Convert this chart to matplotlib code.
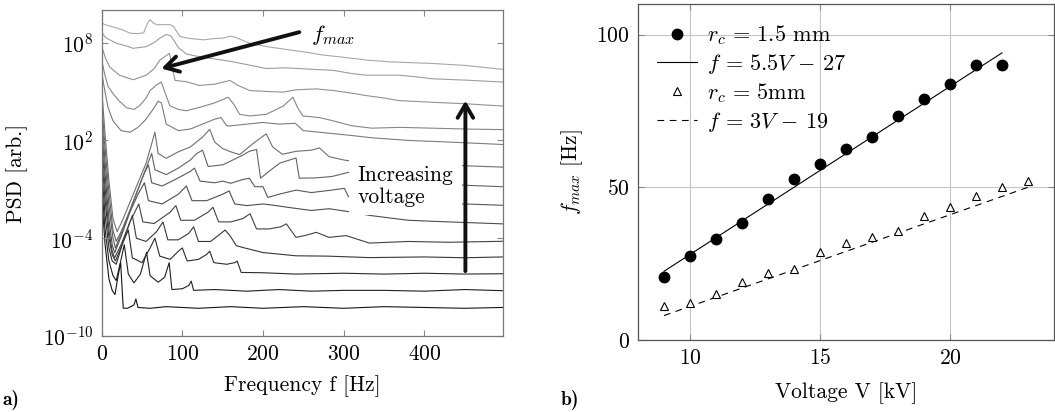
import numpy as np
import matplotlib
matplotlib.use('Agg')
import matplotlib.pyplot as plt

plt.rcParams['font.family'] = 'cmr10'
plt.rcParams['mathtext.fontset'] = 'cm'
plt.rcParams['axes.formatter.use_mathtext'] = True
plt.rcParams['font.size'] = 15.5

# panel a) : spectra, (frequency [Hz], log10 PSD)
psd_09kv = [(0.5, -1.8), (4, -4.3), (9, -6.5), (13, -7.2), (16.5, -7.46), (20, -6.4), (23.5, -5.5), (26.7, -8.29),
            (32, -8.3), (40, -8.1), (42.4, -7.73), (45, -8.25), (60, -8.3), (80, -8.2), (120, -8.3), (160, -8.2),
            (200, -8.3), (250, -8.2), (300, -8.3), (350, -8.2), (400, -8.25), (450, -8.3), (497, -8.25)]
psd_10kv = [(0.5, -1.0), (4, -3.4), (9, -5.4), (14, -6.3), (18, -6.6), (24, -5.3), (28, -4.4), (33, -6.2),
            (40, -6.74), (48, -6.2), (55.6, -4.87), (60, -6.3), (70, -6.7), (78, -6.4), (83.7, -5.5), (87, -7.15),
            (100, -7.1), (108, -6.9), (111, -6.63), (114, -7.2), (140, -7.15), (180, -7.25), (220, -7.15),
            (260, -7.25), (300, -7.2), (350, -7.2), (400, -7.25), (450, -7.15), (497, -7.22)]
psd_11kv = [(0.5, -0.1), (4, -2.5), (9, -4.6), (13, -5.4), (18, -5.6), (26, -4.3), (33, -3.5), (38, -5.2),
            (50, -5.5), (60, -4.6), (66, -4.0), (72, -5.1), (85, -5.3), (95, -4.8), (100, -4.6), (106, -5.4),
            (120, -5.3), (130, -5.0), (134, -4.8), (139, -5.5), (155, -5.6), (165, -5.5), (168, -5.4), (173, -6.1),
            (200, -6.12), (240, -6.2), (300, -6.15), (350, -6.2), (400, -6.15), (450, -6.2), (497, -6.18)]
psd_12kv = [(0.5, 0.8), (4, -1.6), (9, -4.0), (13, -5.0), (17, -5.4), (26, -4.3), (33, -3.3), (38, -2.6),
            (43, -4.0), (55, -4.2), (68, -3.6), (76, -3.0), (82, -4.1), (95, -4.1), (108, -3.7), (114, -3.3),
            (120, -4.2), (135, -4.2), (148, -3.7), (153, -3.5), (159, -3.84), (167, -4.46), (175, -4.57),
            (200, -4.88), (241, -5.08), (280, -5.1), (332, -5.19), (400, -5.15), (450, -5.2), (497, -5.15)]
psd_13kv = [(0.5, 1.6), (4, -0.8), (9, -3.5), (13, -4.8), (16, -5.2), (24, -4.4), (35, -3.0), (46, -1.9),
            (51, -3.0), (65, -3.1), (85, -2.4), (92, -2.0), (98, -2.9), (115, -2.9), (132, -2.4), (138, -2.1),
            (145, -3.0), (160, -3.0), (175, -2.8), (184, -2.5), (192, -3.43), (208, -3.43), (222, -3.3),
            (229, -3.12), (241, -3.95), (255, -3.8), (266, -3.64), (282, -3.95), (303, -3.84), (332, -4.3),
            (380, -4.2), (430, -4.25), (497, -4.19)]
psd_14kv = [(0.5, 2.4), (4, 0.0), (9, -2.8), (13, -4.4), (16, -4.9), (24, -3.9), (35, -2.4), (45, -1.3),
            (53, -0.6), (58, -1.7), (75, -1.9), (95, -1.3), (105, -0.8), (112, -1.7), (130, -1.7), (150, -1.3),
            (158, -1.1), (165, -1.9), (180, -2.0), (200, -1.9), (212, -1.97), (230, -2.1), (260, -2.3),
            (282, -2.19), (310, -2.4), (332, -2.6), (380, -2.9), (430, -3.0), (497, -3.12)]
psd_15kv = [(0.5, 3.2), (4, 0.8), (9, -2.0), (14, -4.0), (17, -4.6), (25, -3.6), (35, -2.3), (45, -1.0),
            (53, 0.0), (58, 0.5), (62, -0.6), (75, -0.8), (95, -0.3), (110, 0.1), (115, 0.3), (122, -0.5),
            (140, -0.6), (150, -0.5), (160, -0.63), (175, -0.4), (183, -0.32), (190, -0.84), (200, -0.84),
            (206, -1.5), (220, -1.3), (241, -1.05), (260, -1.2), (285, -1.05), (301, -0.94), (306, -1.46),
            (311, -1.35), (350, -1.6), (400, -1.8), (450, -1.9), (497, -1.98)]
psd_16kv = [(0.5, 4.0), (4, 1.6), (9, -1.2), (14, -3.5), (18, -4.2), (25, -3.5), (35, -2.3), (45, -1.0),
            (55, 0.3), (62, 1.2), (66, 0.2), (80, -0.1), (95, 0.3), (110, 0.8), (118, 1.2), (125, 1.4),
            (132, 0.4), (150, 0.5), (159, 0.71), (175, 1.1), (183, 1.33), (192, 1.44), (197, -0.32), (210, 0.2),
            (221, 0.61), (241, 0.92), (245, -0.32), (265, -0.3), (285, -0.22), (311, 0.1), (350, -0.4),
            (400, -0.6), (450, -0.75), (497, -0.84)]
psd_17kv = [(0.5, 4.8), (4, 2.5), (9, -0.5), (14, -2.8), (19, -3.6), (25, -3.0), (35, -1.8), (45, -0.6),
            (55, 0.6), (62, 1.8), (66, 2.5), (70, 1.2), (80, 0.9), (95, 1.3), (110, 1.6), (125, 2.2),
            (134, 2.68), (140, 1.9), (150, 1.5), (160, 1.3), (171, 1.13), (190, 1.9), (204, 2.4), (212, 1.6),
            (224, 1.15), (241, 1.33), (260, 1.4), (270, 1.54), (282, 1.0), (300, 0.8), (311, 0.71), (360, 0.6),
            (420, 0.5), (497, 0.36)]
psd_18kv = [(0.5, 6.0), (4, 5.0), (8, 4.0), (14, 3.2), (24, 2.6), (35, 2.5), (45, 2.8), (55, 3.3), (65, 4.0),
            (70, 4.4), (74, 4.3), (80, 3.0), (95, 2.6), (110, 2.7), (125, 3.0), (140, 3.3), (148, 3.4),
            (155, 2.9), (159, 2.89), (180, 3.0), (200, 3.1), (220, 3.0), (240, 3.05), (250, 2.6), (280, 2.45),
            (310, 2.3), (335, 2.16), (380, 2.0), (430, 1.9), (497, 1.75)]
psd_19kv = [(0.5, 6.8), (4, 6.0), (8, 5.3), (14.4, 4.85), (22, 4.4), (31, 4.0), (40, 3.9), (47, 4.13),
            (55, 4.6), (60, 5.06), (68, 5.4), (74, 5.58), (78, 5.0), (84.5, 4.13), (95, 3.9), (105, 3.82),
            (121.6, 4.03), (140, 4.3), (157, 4.65), (164, 4.2), (171, 3.6), (183.5, 3.5), (204, 3.6),
            (225, 4.1), (237, 4.65), (243, 4.0), (249.5, 3.5), (270, 3.4), (287, 3.2), (310, 2.9), (335, 2.75),
            (370, 2.8), (410, 2.75), (450, 2.7), (497, 2.66)]
psd_20kv = [(0.5, 7.7), (5, 7.0), (10, 6.5), (22, 6.0), (39, 5.72), (55, 6.0), (65, 6.4), (72, 6.92), (80, 7.2),
            (84, 7.34), (87, 6.6), (91, 5.68), (105, 5.6), (121, 5.37), (140, 5.45), (159, 5.68), (168, 5.4),
            (183.5, 5.06), (205, 5.0), (225, 4.96), (240, 5.1), (266, 5.16), (287, 5.06), (310, 4.9),
            (328, 4.75), (350, 4.6), (369, 4.44), (410, 4.34), (450, 4.25), (497, 4.11)]
psd_21kv = [(0.5, 8.6), (5, 8.3), (18, 7.96), (30, 7.8), (39, 7.65), (55, 7.75), (65, 8.0), (72, 8.27), (80, 8.5),
            (86, 8.4), (90, 8.1), (95, 7.7), (105, 7.3), (121.6, 7.13), (140, 7.0), (163, 6.82), (185, 6.6),
            (204, 6.41), (225, 6.45), (245, 6.41), (265, 6.35), (287, 6.3), (310, 6.1), (328, 6.0), (369, 6.0),
            (390, 5.9), (410, 5.78), (450, 5.7), (497, 5.58)]
psd_22kv = [(0.5, 9.2), (4, 9.1), (15, 8.95), (25, 8.8), (35, 8.58), (45, 8.55), (52, 8.6), (57, 9.2), (60, 9.41),
            (64, 9.2), (68, 9.1), (78, 9.1), (85, 9.1), (89, 8.99), (97, 8.37), (110, 8.25), (126, 8.17),
            (140, 8.25), (150, 8.27), (160, 8.4), (167, 8.3), (183.5, 7.96), (205, 7.75), (233, 7.55),
            (255, 7.4), (274, 7.24), (300, 7.1), (330, 6.92), (357, 6.82), (410, 6.72), (451, 6.6), (497, 6.36)]

spectra = [psd_09kv, psd_10kv, psd_11kv, psd_12kv, psd_13kv, psd_14kv, psd_15kv,
           psd_16kv, psd_17kv, psd_18kv, psd_19kv, psd_20kv, psd_21kv, psd_22kv]

# panel b) : peak frequency vs voltage
volt_15mm = [9, 10, 11, 12, 13, 14, 15, 16, 17, 18, 19, 20, 21, 22]
fmax_15mm = [20.7, 27.5, 33.2, 38.2, 46.0, 52.7, 57.6, 62.5, 66.4, 73.2, 79.0, 83.9, 89.9, 89.9]
volt_5mm = [9, 10, 11, 12, 13, 14, 15, 16, 17, 18, 19, 20, 21, 22, 23]
fmax_5mm = [11.1, 12.2, 15.2, 19.1, 22.0, 23.1, 28.9, 31.6, 33.6, 35.7, 40.5, 43.4, 47.3, 50.2, 52.2]
fit_15mm = (5.5, -27)   # f = 5.5V - 27
fit_5mm = (3.0, -19)    # f = 3V - 19
fit_15mm_v = [9, 22]
fit_5mm_v = [9, 23]

W, H = 1055, 412
fig = plt.figure(figsize=(W / 100, H / 100), dpi=100)

# ---------------- a)
ax1 = fig.add_axes([101.7 / W, 1 - 336 / H, (503.3 - 101.7) / W, (336 - 10) / H])
grays = np.linspace(0.08, 0.66, len(spectra))
for spec, g in zip(spectra, grays):
    f = np.array([p[0] for p in spec])
    lp = np.array([p[1] for p in spec])
    ax1.plot(f, 10 ** lp, color=str(g), lw=0.8, zorder=1)

ax1.set_yscale('log')
ax1.set_xlim(0, 498)
ax1.set_ylim(1e-10, 1e10)
ax1.set_xticks([0, 100, 200, 300, 400])
ax1.set_yticks([1e-10, 1e-4, 1e2, 1e8])
ax1.yaxis.set_minor_locator(matplotlib.ticker.NullLocator())
ax1.tick_params(direction='in', length=4, width=0.8, color='#888888', top=True, right=True, pad=6)
for s in ax1.spines.values():
    s.set_color('#777777')
    s.set_linewidth(0.9)
ax1.set_xlabel('Frequency f [Hz]')
ax1.set_ylabel('PSD [arb.]')
ax1.xaxis.set_label_coords(0.5, -0.12)
ax1.yaxis.set_label_coords(-0.183, 0.5)

ax1.annotate('', xy=(74, 10 ** 6.41), xytext=(245, 10 ** 8.64),
             arrowprops=dict(arrowstyle='->,head_length=0.6,head_width=0.35', lw=2.8, color='#111111',
                             mutation_scale=16, shrinkA=0, shrinkB=0), zorder=6)
ax1.text(260, 10 ** 8.45, r'$f_{max}$', ha='left', va='center', fontsize=16.5, zorder=6)
ax1.text(317, 10 ** -0.8, 'Increasing\nvoltage', ha='left', va='center', linespacing=1.15, zorder=5,
         bbox=dict(boxstyle='square,pad=0.4', fc='white', ec='none'))
ax1.annotate('', xy=(451, 10 ** 4.44), xytext=(451, 10 ** -6.02),
             arrowprops=dict(arrowstyle='->,head_length=0.6,head_width=0.35', lw=2.8, color='#111111',
                             mutation_scale=16, shrinkA=0, shrinkB=0), zorder=6)

# ---------------- b)
ax2 = fig.add_axes([638 / W, 1 - 340 / H, (1054 - 638) / W, (340 - 4) / H])
ax2.grid(True, color='#c4c4c4', lw=0.8)
ax2.set_axisbelow(True)
ax2.plot(volt_15mm, fmax_15mm, 'o', color='black', ms=7.5, ls='none',
         label=r'$r_c \,=\, 1.5$ mm', zorder=3)
v = np.array(fit_15mm_v)
ax2.plot(v, fit_15mm[0] * v + fit_15mm[1], color='black', lw=0.8,
         label=r'$f \,=\, 5.5V \,-\, 27$', zorder=2)
ax2.plot(volt_5mm, fmax_5mm, '^', mfc='white', mec='black', mew=0.8, ms=6, ls='none',
         label=r'$r_c \,=\, 5$mm', zorder=3)
v = np.array(fit_5mm_v)
ax2.plot(v, fit_5mm[0] * v + fit_5mm[1], color='black', lw=0.8, ls=(0, (6, 5)),
         label=r'$f \,=\, 3V \,-\, 19$', zorder=2)

ax2.set_xlim(8, 24)
ax2.set_ylim(0, 110)
ax2.set_xticks([10, 15, 20])
ax2.set_yticks([0, 50, 100])
ax2.tick_params(direction='in', length=4, width=0.8, color='#888888', top=True, right=True, pad=6)
for s in ax2.spines.values():
    s.set_color('#555555')
    s.set_linewidth(0.9)
ax2.set_xlabel('Voltage V [kV]')
ax2.set_ylabel(r'$f_{max}$ [Hz]')
ax2.xaxis.set_label_coords(0.5, -0.125)
ax2.yaxis.set_label_coords(-0.127, 0.5)
ax2.legend(loc='upper left', frameon=False, handlelength=1.8, handletextpad=0.45, labelspacing=0.22,
           borderaxespad=0.1, bbox_to_anchor=(0.02, 0.975), fontsize=16)

fig.text(0.002, 1 - 400 / H, 'a)', family='cmb10', va='center', ha='left', fontsize=14)
fig.text(561 / W, 1 - 400 / H, 'b)', family='cmb10', va='center', ha='left', fontsize=14)

fig.savefig('out.png', dpi=100)
